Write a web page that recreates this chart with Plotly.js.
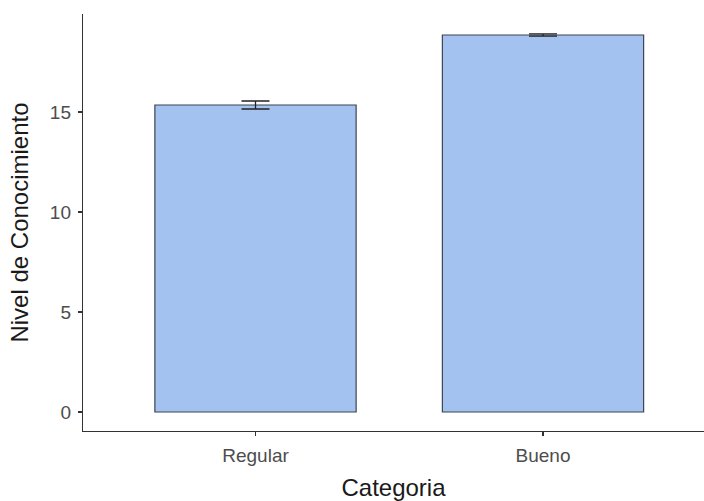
<!DOCTYPE html>
<html>
<head>
<meta charset="utf-8">
<script src="https://cdn.plot.ly/plotly-3.0.1.min.js"></script>
<style>html,body{margin:0;padding:0;background:#fff;}#chart{width:704px;height:501px;}</style>
</head>
<body>
<div id="chart"></div>
<script>
const categories = ["Regular", "Bueno"];
const means = [15.35, 18.85];
const errors = [0.2, 0.06];
const yTicks = [0, 5, 10, 15];

const trace = {
  type: "bar",
  x: categories,
  y: means,
  width: 0.7,
  marker: {color: "#a4c2f0", line: {color: "#3b4452", width: 1.2}},
  error_y: {type: "data", array: errors, visible: true, color: "#222", thickness: 1.3, width: 14}
};

const layout = {
  width: 704, height: 501,
  margin: {l: 83, r: 0, t: 14, b: 70},
  paper_bgcolor: "#fff", plot_bgcolor: "#fff",
  showlegend: false,
  font: {family: "Liberation Sans, Arial, sans-serif"},
  xaxis: {
    type: "category", range: [-0.6, 1.56],
    showline: true, linecolor: "#333", linewidth: 1.2,
    ticks: "outside", ticklen: 4, tickcolor: "#333", tickwidth: 1.2,
    ticklabelstandoff: 3,
    showgrid: false, zeroline: false,
    tickfont: {size: 19, color: "#4d4d4d"},
    title: {text: "Categoria", font: {size: 24, color: "#1a1a1a"}, standoff: 14}
  },
  yaxis: {
    range: [-0.95, 19.9],
    tickvals: yTicks, ticktext: yTicks.map(String),
    showline: true, linecolor: "#333", linewidth: 1.2,
    ticks: "outside", ticklen: 4, tickcolor: "#333", tickwidth: 1.2,
    ticklabelstandoff: 3,
    showgrid: false, zeroline: false,
    tickfont: {size: 19, color: "#4d4d4d"},
    title: {text: "Nivel de Conocimiento", font: {size: 24, color: "#1a1a1a"}, standoff: 14}
  }
};

Plotly.newPlot("chart", [trace], layout, {displayModeBar: false, staticPlot: true});
</script>
</body>
</html>
